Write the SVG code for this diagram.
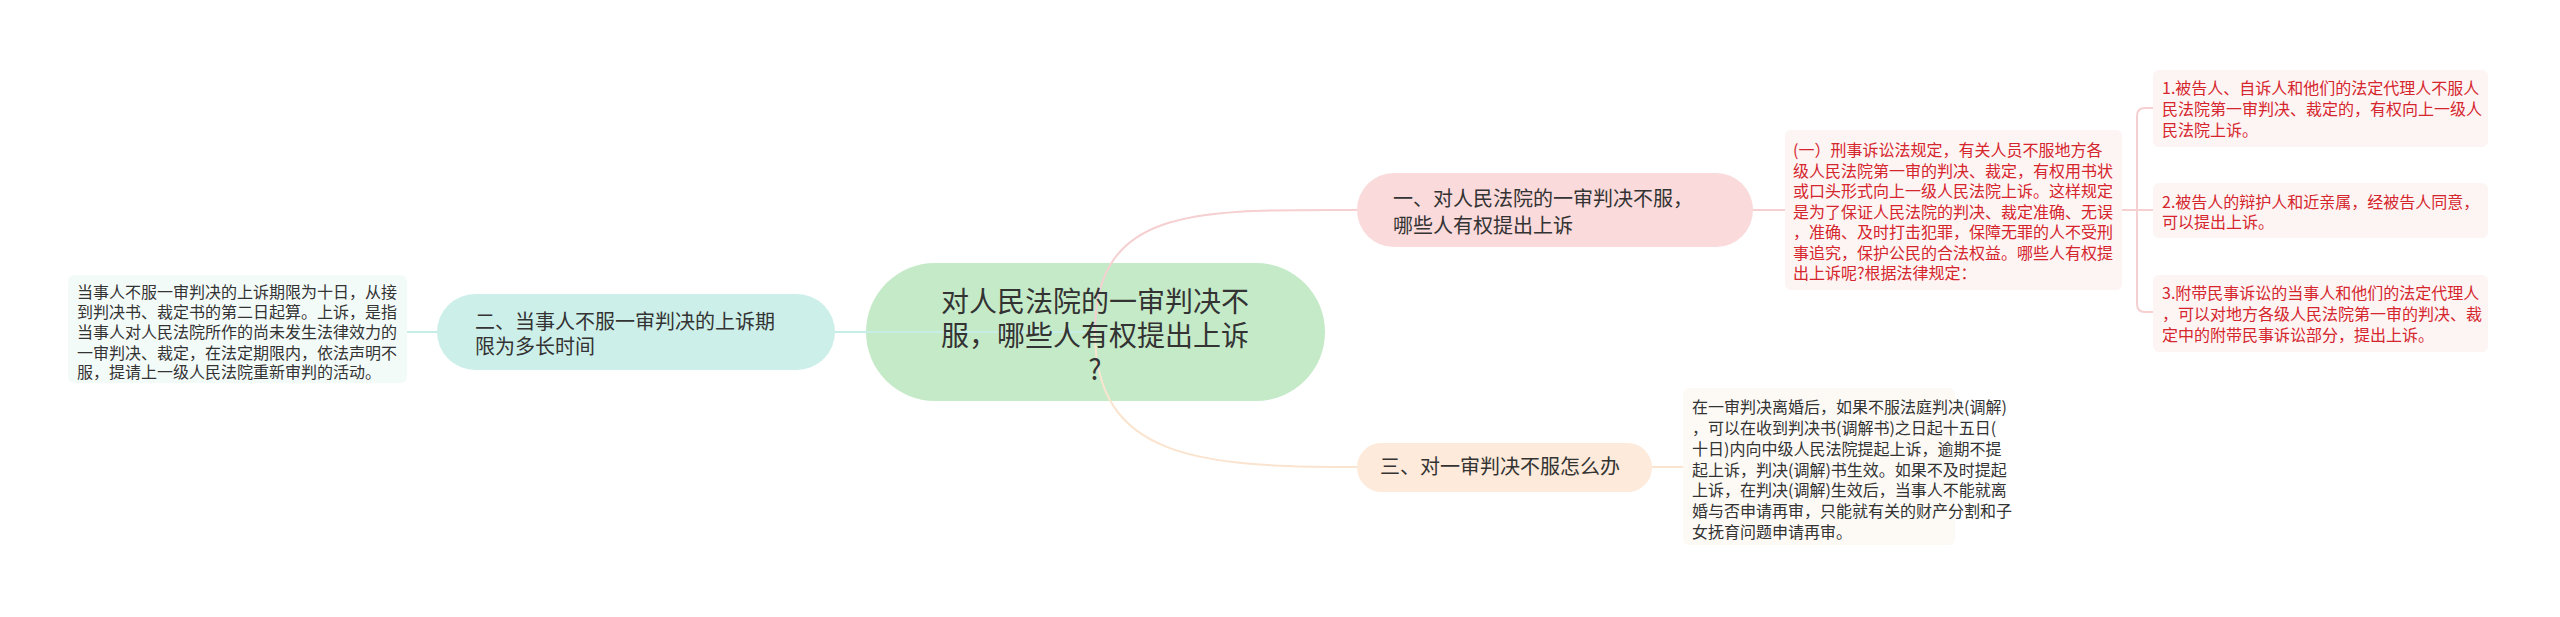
<svg xmlns="http://www.w3.org/2000/svg" width="2560" height="617" viewBox="0 0 2560 617">
<style>
text{font-family:"Noto Sans CJK SC","Noto Sans",sans-serif;}
.t28{font-size:28px;fill:#333;}
.t20{font-size:20px;fill:#333;}
.t16{font-size:16px;fill:#333;}
.r16{font-size:16px;fill:#d5262d;}
.ln{fill:none;stroke-width:2;}
</style>
<rect width="2560" height="617" fill="#ffffff"/>
<g id="root">
<rect x="866" y="263" width="459" height="138" rx="69" fill="#c5eac8"/>
</g>
<g id="connectors">
<path class="ln" stroke="#c7ede7" d="M1095 332 H835"/>
<path class="ln" stroke="#c7ede7" d="M437 332 H407"/>
<path class="ln" stroke="#f6cfd0" d="M1095 332 C1095 205 1200 210 1357 210"/>
<path class="ln" stroke="#fbe4cf" d="M1095 332 C1095 459 1200 467 1357 467"/>
<path class="ln" stroke="#f6cfd0" d="M1753 210 H1785"/>
<path class="ln" stroke="#f6cfd0" d="M2122 210 H2153"/>
<path class="ln" stroke="#f6cfd0" d="M2153 108 H2145 Q2137 108 2137 116 V304 Q2137 312 2145 312 H2153"/>
<path class="ln" stroke="#fbe4cf" d="M1652 467 H1683"/>
</g>
<g id="root-text">
<text class="t28" text-anchor="middle" x="1095" y="312">对人民法院的一审判决不</text>
<text class="t28" text-anchor="middle" x="1095" y="346">服，哪些人有权提出上诉</text>
<text class="t28" text-anchor="middle" x="1095" y="380">?</text>
</g>
<g id="node2">
<rect x="437" y="294" width="398" height="76" rx="38" fill="#cdefe9"/>
<text class="t20" x="475" y="329">二、当事人不服一审判决的上诉期</text>
<text class="t20" x="475" y="354">限为多长时间</text>
</g>
<g id="node2-detail">
<rect x="68" y="275" width="339" height="108" rx="6" fill="#f3fbf9"/>
<text class="t16" x="77" y="298">当事人不服一审判决的上诉期限为十日，从接</text>
<text class="t16" x="77" y="318">到判决书、裁定书的第二日起算。上诉，是指</text>
<text class="t16" x="77" y="338">当事人对人民法院所作的尚未发生法律效力的</text>
<text class="t16" x="77" y="359">一审判决、裁定，在法定期限内，依法声明不</text>
<text class="t16" x="77" y="378">服，提请上一级人民法院重新审判的活动。</text>
</g>
<g id="node1">
<rect x="1357" y="173" width="396" height="74" rx="37" fill="#fadadb"/>
<text class="t20" x="1393" y="206">一、对人民法院的一审判决不服，</text>
<text class="t20" x="1393" y="233">哪些人有权提出上诉</text>
</g>
<g id="node1-detail">
<rect x="1785" y="130" width="337" height="160" rx="6" fill="#fdf4f4"/>
<text class="r16" x="1793" y="156">(一）刑事诉讼法规定，有关人员不服地方各</text>
<text class="r16" x="1793" y="177">级人民法院第一审的判决、裁定，有权用书状</text>
<text class="r16" x="1793" y="197">或口头形式向上一级人民法院上诉。这样规定</text>
<text class="r16" x="1793" y="218">是为了保证人民法院的判决、裁定准确、无误</text>
<text class="r16" x="1793" y="238">，准确、及时打击犯罪，保障无罪的人不受刑</text>
<text class="r16" x="1793" y="259">事追究，保护公民的合法权益。哪些人有权提</text>
<text class="r16" x="1793" y="279">出上诉呢?根据法律规定：</text>
</g>
<g id="sub1">
<rect x="2153" y="70" width="335" height="77" rx="6" fill="#fdf4f4"/>
<text class="r16" x="2162" y="94">1.被告人、自诉人和他们的法定代理人不服人</text>
<text class="r16" x="2162" y="115">民法院第一审判决、裁定的，有权向上一级人</text>
<text class="r16" x="2162" y="136">民法院上诉。</text>
</g>
<g id="sub2">
<rect x="2153" y="183" width="335" height="55" rx="6" fill="#fdf4f4"/>
<text class="r16" x="2162" y="208">2.被告人的辩护人和近亲属，经被告人同意，</text>
<text class="r16" x="2162" y="228">可以提出上诉。</text>
</g>
<g id="sub3">
<rect x="2153" y="275" width="335" height="77" rx="6" fill="#fdf4f4"/>
<text class="r16" x="2162" y="299">3.附带民事诉讼的当事人和他们的法定代理人</text>
<text class="r16" x="2162" y="320">，可以对地方各级人民法院第一审的判决、裁</text>
<text class="r16" x="2162" y="341">定中的附带民事诉讼部分，提出上诉。</text>
</g>
<g id="node3">
<rect x="1357" y="443" width="295" height="49" rx="24.5" fill="#fdeada"/>
<text class="t20" x="1380" y="474">三、对一审判决不服怎么办</text>
</g>
<g id="node3-detail">
<rect x="1683" y="388" width="272" height="157" rx="6" fill="#fdfaf6"/>
<text class="t16" x="1692" y="413">在一审判决离婚后，如果不服法庭判决(调解)</text>
<text class="t16" x="1692" y="434">，可以在收到判决书(调解书)之日起十五日(</text>
<text class="t16" x="1692" y="455">十日)内向中级人民法院提起上诉，逾期不提</text>
<text class="t16" x="1692" y="476">起上诉，判决(调解)书生效。如果不及时提起</text>
<text class="t16" x="1692" y="496">上诉，在判决(调解)生效后，当事人不能就离</text>
<text class="t16" x="1692" y="517">婚与否申请再审，只能就有关的财产分割和子</text>
<text class="t16" x="1692" y="538">女抚育问题申请再审。</text>
</g>
</svg>
